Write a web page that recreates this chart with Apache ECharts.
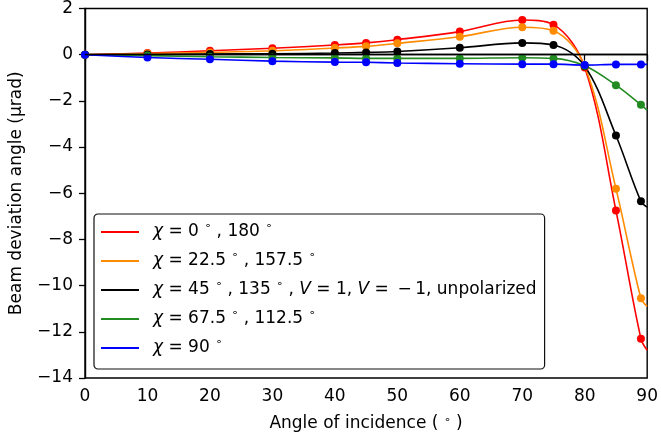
<!DOCTYPE html>
<html><head><meta charset="utf-8">
<script src="https://cdn.jsdelivr.net/npm/echarts@6/dist/echarts.min.js"></script>
<style>html,body{margin:0;padding:0;background:#fff}#c{width:661px;height:439px}</style>
</head><body><div id="c"></div>
<script>
const angles = [0,10,20,30,40,45,50,60,70,75,80,85,89];
const redVals    = [0,0.07,0.17,0.28,0.42,0.51,0.65,1.0,1.5,1.3,-0.55,-6.75,-12.3];
const orangeVals = [0,0.05,0.10,0.17,0.29,0.36,0.49,0.78,1.19,1.04,-0.5,-5.8,-10.55];
const blackVals  = [0,0.01,0.03,0.04,0.07,0.10,0.14,0.30,0.51,0.42,-0.5,-3.5,-6.35];
const greenVals  = [0,-0.04,-0.09,-0.12,-0.14,-0.16,-0.16,-0.16,-0.13,-0.16,-0.48,-1.32,-2.17];
const blueVals   = [0,-0.12,-0.20,-0.28,-0.32,-0.33,-0.36,-0.39,-0.41,-0.41,-0.45,-0.42,-0.42];
// where each curve meets the right edge (x = 90)
const endX = 90;
const endVals = [-12.8,-10.9,-6.6,-2.4,-0.42];
const names = ['c0','c22','c45','c67','c90'];
const T = '\u2009';
const legendLabels = [
  '{i|χ} = 0 {s|∘} , 180 {s|∘}',
  '{i|χ} = 22.5 {s|∘} , 157.5 {s|∘}',
  '{i|χ} = 45 {s|∘} , 135 {s|∘} , {i|V} = 1, {i|V} = '+T+'−'+T+'1, unpolarized',
  '{i|χ} = 67.5 {s|∘} , 112.5 {s|∘}',
  '{i|χ} = 90 {s|∘}'
];
const colors = ['#ff0000','#ff8c00','#000000','#228b22','#0000ff'];
const allVals = [redVals,orangeVals,blackVals,greenVals,blueVals];

const FONT = 'DejaVu Sans';
const FS = 17;
const series = allVals.map((vals,k)=>{
  const d = angles.map((a,i)=>[a,vals[i]]);
  d.push({value:[endX,endVals[k]],symbol:'none'});
  const s = {
    name: names[k], type:'line', data:d, smooth:0.35,
    symbol:'circle', symbolSize:8, showSymbol:true,
    lineStyle:{color:colors[k],width:1.6},
    itemStyle:{color:colors[k]},
    emphasis:{disabled:true}, animation:false, clip:true
  };
  if(k===0){
    s.markLine={silent:true,symbol:'none',label:{show:false},
      lineStyle:{color:'#000',width:1.4,type:'solid'},data:[{yAxis:0}],animation:false};
  }
  return s;
});

const richS = {fontFamily:FONT,fontSize:11,color:'#000',verticalAlign:'top'};
const chart = echarts.init(document.getElementById('c'));
chart.setOption({
  animation:false,
  backgroundColor:'#fff',
  grid:{left:85,right:11,top:8,bottom:61,show:true,borderColor:'#000',borderWidth:1.4,backgroundColor:'transparent'},
  xAxis:{type:'value',min:0,max:90,interval:10,
    name:'Angle of incidence ( {s|∘} )',nameLocation:'middle',nameGap:37,
    nameTextStyle:{fontFamily:FONT,fontSize:FS,color:'#000',rich:{s:richS}},
    axisLine:{show:true,lineStyle:{color:'#000',width:1.4}},
    axisTick:{show:true,length:6,lineStyle:{color:'#000',width:1.3}},
    axisLabel:{fontFamily:FONT,fontSize:FS,color:'#000',margin:10},
    splitLine:{show:false}},
  yAxis:{type:'value',min:-14,max:2,interval:2,
    name:'Beam deviation angle (μrad)',nameLocation:'middle',nameGap:60,
    nameTextStyle:{fontFamily:FONT,fontSize:FS,color:'#000'},
    axisLine:{show:true,lineStyle:{color:'#000',width:1.4}},
    axisTick:{show:true,length:6,lineStyle:{color:'#000',width:1.3}},
    axisLabel:{fontFamily:FONT,fontSize:FS,color:'#000',margin:12,
      formatter:v=>v<0?'−'+Math.abs(v):String(v)},
    splitLine:{show:false}},
  legend:{
    data:names, orient:'vertical', left:94, top:214,
    icon:'rect', itemWidth:38, itemHeight:2, itemGap:7,
    padding:[7,8,10,7],
    backgroundColor:'#fff', borderColor:'#111', borderWidth:1.2, borderRadius:4,
    formatter:n=>legendLabels[names.indexOf(n)],
    textStyle:{fontFamily:FONT,fontSize:FS,color:'#000',lineHeight:22,padding:[0,0,0,9],
      rich:{i:{fontFamily:FONT,fontSize:FS,fontStyle:'italic',color:'#000'},
            s:richS}},
    selectedMode:false
  },
  series:series
});
</script></body></html>
